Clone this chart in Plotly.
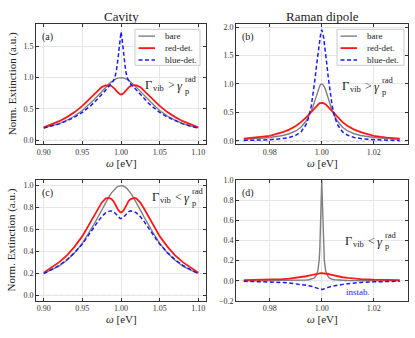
import plotly.graph_objects as go

# ---------------- data ----------------
x_cav = [0.90, 0.91, 0.92, 0.93, 0.94, 0.95, 0.955, 0.96, 0.965, 0.97, 0.975, 0.98, 0.9825, 0.985, 0.9875,
         0.99, 0.992, 0.994, 0.996, 0.9975, 0.999, 1.00, 1.001, 1.0025, 1.004, 1.006, 1.008, 1.01, 1.0125,
         1.015, 1.0175, 1.02, 1.025, 1.03, 1.035, 1.04, 1.045, 1.05, 1.06, 1.07, 1.08, 1.09, 1.10]

bare_a = [0.2, 0.23, 0.267, 0.32, 0.388, 0.475, 0.53, 0.588, 0.648, 0.712, 0.78, 0.845, 0.876, 0.905, 0.932,
          0.956, 0.972, 0.984, 0.993, 0.997, 1.0, 1.0, 1.0, 0.997, 0.993, 0.984, 0.972, 0.956, 0.932,
          0.905, 0.876, 0.845, 0.78, 0.712, 0.648, 0.588, 0.53, 0.475, 0.388, 0.32, 0.267, 0.23, 0.2]
red_a = [0.205, 0.25, 0.305, 0.37, 0.45, 0.55, 0.605, 0.665, 0.73, 0.79, 0.85, 0.875, 0.88, 0.878, 0.868,
         0.845, 0.82, 0.79, 0.76, 0.745, 0.732, 0.73, 0.732, 0.745, 0.76, 0.79, 0.82, 0.845, 0.868,
         0.878, 0.88, 0.875, 0.85, 0.79, 0.73, 0.665, 0.605, 0.55, 0.45, 0.37, 0.305, 0.25, 0.205]
blue_a = [0.196, 0.224, 0.262, 0.31, 0.37, 0.445, 0.49, 0.545, 0.6, 0.66, 0.73, 0.8, 0.835, 0.87, 0.9,
          0.945, 1.0, 1.11, 1.29, 1.48, 1.66, 1.73, 1.66, 1.48, 1.29, 1.11, 1.0, 0.945, 0.9,
          0.87, 0.835, 0.8, 0.73, 0.66, 0.6, 0.545, 0.49, 0.445, 0.37, 0.31, 0.262, 0.224, 0.196]

bare_c = bare_a
red_c = [0.207, 0.252, 0.303, 0.365, 0.445, 0.54, 0.6, 0.66, 0.725, 0.79, 0.845, 0.882, 0.888, 0.886, 0.878,
         0.862, 0.84, 0.81, 0.782, 0.767, 0.757, 0.755, 0.757, 0.767, 0.782, 0.81, 0.84, 0.862, 0.878,
         0.886, 0.888, 0.882, 0.845, 0.79, 0.725, 0.66, 0.6, 0.54, 0.445, 0.365, 0.303, 0.252, 0.207]
blue_c = [0.198, 0.232, 0.273, 0.325, 0.39, 0.468, 0.515, 0.567, 0.62, 0.672, 0.718, 0.752, 0.762, 0.768, 0.77,
          0.763, 0.753, 0.738, 0.72, 0.708, 0.701, 0.70, 0.701, 0.708, 0.72, 0.738, 0.753, 0.763, 0.77,
          0.768, 0.762, 0.752, 0.718, 0.672, 0.62, 0.567, 0.515, 0.468, 0.39, 0.325, 0.273, 0.232, 0.198]

x_ram = [0.97, 0.975, 0.98, 0.985, 0.9875, 0.99, 0.992, 0.994, 0.995, 0.996, 0.9965, 0.997, 0.9975, 0.998,
         0.9985, 0.999, 0.99925, 0.9995, 0.9997, 1.0, 1.0003, 1.0005, 1.00075, 1.001, 1.0015, 1.002, 1.0025,
         1.003, 1.0035, 1.004, 1.005, 1.006, 1.008, 1.01, 1.0125, 1.015, 1.02, 1.025, 1.03]

bare_b = [0.03, 0.041, 0.06, 0.097, 0.127, 0.175, 0.24, 0.35, 0.43, 0.53, 0.59, 0.66, 0.74, 0.82,
          0.895, 0.95, 0.97, 0.987, 0.995, 1.0, 0.995, 0.987, 0.97, 0.95, 0.895, 0.82, 0.74,
          0.66, 0.59, 0.53, 0.43, 0.35, 0.24, 0.175, 0.127, 0.097, 0.06, 0.041, 0.03]
red_b = [0.042, 0.06, 0.09, 0.155, 0.2, 0.262, 0.33, 0.415, 0.465, 0.518, 0.545, 0.57, 0.596, 0.62,
         0.642, 0.657, 0.663, 0.667, 0.669, 0.67, 0.669, 0.667, 0.663, 0.657, 0.642, 0.62, 0.596,
         0.57, 0.545, 0.518, 0.465, 0.415, 0.33, 0.262, 0.2, 0.155, 0.09, 0.06, 0.042]
blue_b = [0.009, 0.013, 0.022, 0.042, 0.062, 0.1, 0.16, 0.29, 0.42, 0.62, 0.76, 0.93, 1.12, 1.33,
          1.53, 1.72, 1.8, 1.88, 1.92, 1.95, 1.92, 1.88, 1.8, 1.72, 1.53, 1.33, 1.12,
          0.93, 0.76, 0.62, 0.42, 0.29, 0.16, 0.1, 0.062, 0.042, 0.022, 0.013, 0.009]

bare_d = [0.0003, 0.0004, 0.0006, 0.0011, 0.0016, 0.0025, 0.004, 0.007, 0.01, 0.015, 0.02, 0.027, 0.039, 0.059,
          0.1, 0.2, 0.31, 0.5, 0.74, 1.0, 0.74, 0.5, 0.31, 0.2, 0.1, 0.059, 0.039,
          0.027, 0.02, 0.015, 0.01, 0.007, 0.004, 0.0025, 0.0016, 0.0011, 0.0006, 0.0004, 0.0003]
red_d = [0.006, 0.008, 0.011, 0.017, 0.021, 0.028, 0.035, 0.045, 0.051, 0.0577, 0.061, 0.0643, 0.0673, 0.07,
         0.0722, 0.0738, 0.0743, 0.0747, 0.0749, 0.075, 0.0749, 0.0747, 0.0743, 0.0738, 0.0722, 0.07, 0.0673,
         0.0643, 0.061, 0.0577, 0.051, 0.045, 0.035, 0.028, 0.021, 0.017, 0.011, 0.008, 0.006]
blue_d = [-0.005, -0.007, -0.011, -0.017, -0.022, -0.029, -0.036, -0.044, -0.049, -0.055, -0.058, -0.061, -0.065, -0.069,
          -0.074, -0.079, -0.082, -0.085, -0.087, -0.09, -0.087, -0.085, -0.082, -0.079, -0.074, -0.069, -0.065,
          -0.061, -0.058, -0.055, -0.049, -0.044, -0.036, -0.029, -0.022, -0.017, -0.011, -0.007, -0.005]

series_names = ["bare", "red-det.", "blue-det."]
col_titles = ["Cavity", "Raman dipole"]
panel_labels = ["(a)", "(b)", "(c)", "(d)"]
regime_rel = [">", ">", "<", "<"]
ticks_cav = [0.90, 0.95, 1.00, 1.05, 1.10]
ticks_ram = [0.98, 1.00, 1.02]
yticks_a = [0.0, 0.5, 1.0, 1.5]
yticks_b = [0.0, 0.5, 1.0, 1.5, 2.0]
yticks_c = [0.0, 0.2, 0.4, 0.6, 0.8, 1.0]
yticks_d = [-0.2, 0.0, 0.2, 0.4, 0.6, 0.8, 1.0]

# ---------------- styling ----------------
W, H = 415, 338
FONT = "Liberation Serif"
GRAY, RED, BLUE = "#7f7f7f", "#ff1a1a", "#1a1aff"
STYLES = [(GRAY, "solid", 1.4), (RED, "solid", 1.8), (BLUE, "4px,2.5px", 1.5)]

def px(x):
    return x / W

def py(y):
    return 1 - y / H

fig = go.Figure()

panels = [
    (x_cav, [bare_a, red_a, blue_a], "x", "y"),
    (x_ram, [bare_b, red_b, blue_b], "x2", "y2"),
    (x_cav, [bare_c, red_c, blue_c], "x3", "y3"),
    (x_ram, [bare_d, red_d, blue_d], "x4", "y4"),
]
for xs, ys_list, xa, ya in panels:
    for nm, ys, (col, dash, w) in zip(series_names, ys_list, STYLES):
        fig.add_trace(go.Scatter(x=xs, y=ys, mode="lines", name=nm, xaxis=xa, yaxis=ya,
                                 line=dict(color=col, width=w, dash=dash), showlegend=False,
                                 hoverinfo="skip"))

# domains (pixel-measured)
xL = [px(36), px(206)]
xR = [px(236), px(407.5)]
yT = [py(144), py(21)]
yB = [py(305), py(181)]

ax_common = dict(showline=True, linecolor="#333333", linewidth=1, mirror="ticks", ticks="inside",
                 ticklen=3, tickcolor="#333333", showgrid=True, gridcolor="#e6e6e6", gridwidth=1,
                 zeroline=False, tickfont=dict(family=FONT, size=8, color="#333333"))

fig.update_layout(
    width=W, height=H, margin=dict(l=0, r=0, t=0, b=0),
    paper_bgcolor="white", plot_bgcolor="white",
    font=dict(family=FONT, color="#222222"),
    showlegend=False,
    xaxis=dict(domain=xL, anchor="y", range=[0.89, 1.11], tickvals=ticks_cav, tickformat=".2f", **ax_common),
    yaxis=dict(domain=yT, anchor="x", range=[-0.062, 1.85], tickvals=yticks_a, tickformat=".1f", **ax_common),
    xaxis2=dict(domain=xR, anchor="y2", range=[0.967, 1.033], tickvals=ticks_ram, tickformat=".2f", **ax_common),
    yaxis2=dict(domain=yT, anchor="x2", range=[-0.056, 2.045], tickvals=yticks_b, tickformat=".1f", **ax_common),
    xaxis3=dict(domain=xL, anchor="y3", range=[0.89, 1.11], tickvals=ticks_cav, tickformat=".2f", **ax_common),
    yaxis3=dict(domain=yB, anchor="x3", range=[-0.05, 1.05], tickvals=yticks_c, tickformat=".1f", **ax_common),
    xaxis4=dict(domain=xR, anchor="y4", range=[0.967, 1.033], tickvals=ticks_ram, tickformat=".2f", **ax_common),
    yaxis4=dict(domain=yB, anchor="x4", range=[-0.2, 1.0], tickvals=yticks_d, tickformat=".1f", **ax_common),
)

# zero reference lines
for ya, xa in [("y", "x"), ("y2", "x2"), ("y3", "x3"), ("y4", "x4")]:
    fig.add_shape(type="line", xref=f"{xa} domain", x0=0, x1=1, yref=ya, y0=0, y1=0,
                  line=dict(color="#b0b0b0", width=1, dash="dot"), layer="below")

ann = []

def T(text, x, y, size, xanchor="center", color="#222", **kw):
    ann.append(dict(text=text, x=px(x), y=py(y), xref="paper", yref="paper", showarrow=False,
                    xanchor=xanchor, yanchor="middle", font=dict(size=size, family=FONT, color=color), **kw))

# hand-built legends (box + line samples + labels) in panels (a) and (b)
for (bx0, bx1) in [(135, 200), (337, 404)]:
    by0, by1 = 26, 63
    fig.add_shape(type="rect", xref="paper", yref="paper", x0=px(bx0), x1=px(bx1), y0=py(by1), y1=py(by0),
                  line=dict(color="#cccccc", width=1), fillcolor="rgba(255,255,255,0.9)", layer="above")
    for i, (nm, (col, dash, w)) in enumerate(zip(series_names, STYLES)):
        yy = 33 + i * 12.3
        fig.add_shape(type="line", xref="paper", yref="paper", x0=px(bx0 + 3.5), x1=px(bx0 + 20),
                      y0=py(yy), y1=py(yy), line=dict(color=col, width=w, dash=dash), layer="above")
        T(nm, bx0 + 28, yy, 9, xanchor="left")

# column titles
T(col_titles[0], 121, 13, 13)
T(col_titles[1], 322, 13, 13)
# x axis titles
for cx, cy in [(121, 163), (322, 163), (121, 324), (322, 324)]:
    T("<i>ω</i> [eV]", cx, cy, 11)
# y axis titles
for cy in [82.5, 243]:
    T("Norm. Extinction (a.u.)", 12, cy, 11, textangle=-90)
# panel labels
for lab, (lx, ly) in zip(panel_labels, [(40, 34), (240, 34), (40, 194), (240, 194)]):
    T(lab, lx, ly, 10, xanchor="left")
# regime labels, assembled from pieces: Γ_vib (>|<) γ_p^rad
for rel, (gx, gy) in zip(regime_rel, [(143, 83), (340, 84), (150, 198), (343, 243)]):
    T("Γ", gx, gy, 12.5, xanchor="left")
    T("vib", gx + 8, gy + 3.5, 8.5, xanchor="left")
    T(rel, gx + 28, gy, 12)
    T("<i>γ</i>", gx + 36.5, gy + 1, 12.5)
    T("rad", gx + 39.5, gy - 5.5, 8.5, xanchor="left")
    T("p", gx + 39.5, gy + 6, 8.5, xanchor="left")
T("instab.", 358, 296, 9, color=BLUE)
fig.update_layout(annotations=ann)

fig.write_html("out.html", post_script="document.body.style.margin='0px';",
               config={"displayModeBar": False})
